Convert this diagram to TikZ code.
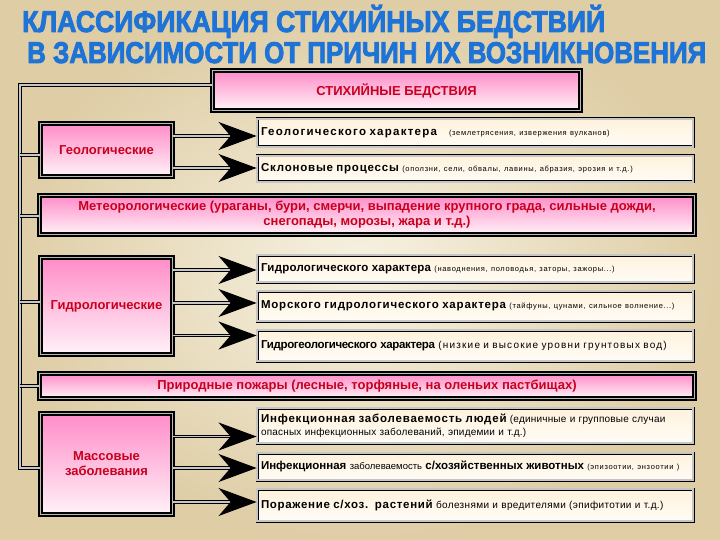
\documentclass[tikz,border=0pt]{standalone}
\usepackage{fontspec}
\setmainfont{Liberation Sans}
\usepackage{graphicx}
\usepackage{tikz}
\usetikzlibrary{arrows.meta}
\usetikzlibrary{positioning}
\tikzstyle{frame}=[draw=black,double=gray!55,line width=1.2pt,double distance=1.8pt]
\tikzstyle{thinframe}=[draw=black,double=gray!45,line width=.9pt,double distance=1.2pt]
\newcommand\mainpart[2][0]{{\bfseries\fontsize{11.5}{13}\selectfont\addfontfeature{LetterSpace=#1}#2}}
\newcommand\notepart[2][9]{{\fontsize{7.5}{9}\selectfont\addfontfeature{LetterSpace=#1}#2}}
\newcommand\midpart[2][0]{{\fontsize{10}{12}\selectfont\addfontfeature{LetterSpace=#1}#2}}

\begin{document}
\begin{tikzpicture}[x=1pt,y=-1pt,
  ttl/.style={font=\bfseries\fontsize{30}{30}\selectfont,anchor=base west,inner sep=0},
  pinkbox/.style={frame,top color=pinktop,bottom color=pinkbot,text=redtext,
    font=\bfseries\fontsize{13}{15}\selectfont,align=center,inner sep=2pt},
  catbox/.style={pinkbox,minimum width=132pt},
  subbox/.style={thinframe,top color=creamtop,bottom color=creambot,
    text width=428pt,align=left,inner sep=4pt},
  conn/.style={draw=black,double=gray!45,line width=1pt,double distance=1.8pt},
  arr/.style={conn,-{Stealth[length=38pt,width=28pt,inset=12pt]}},
]
  \definecolor{pinktop}{RGB}{255,140,200}
  \definecolor{pinkbot}{RGB}{255,242,248}
  \definecolor{creamtop}{RGB}{255,242,220}
  \definecolor{creambot}{RGB}{255,252,246}
  \definecolor{redtext}{RGB}{200,0,30}
  \definecolor{ttlblue}{RGB}{30,115,215}
  \definecolor{bgin}{RGB}{247,242,226}
  \definecolor{bgout}{RGB}{222,205,165}
  \useasboundingbox[inner color=bgin,outer color=bgout] (0,0) rectangle (720,540);

  % title
  \foreach \xp/\yp/\tw/\txt [count=\i] in {22/32/583/КЛАССИФИКАЦИЯ СТИХИЙНЫХ БЕДСТВИЙ,
      27/63/679/В ЗАВИСИМОСТИ ОТ ПРИЧИН ИХ ВОЗНИКНОВЕНИЯ}
    \node[ttl,text=ttlblue] (title\i) at (\xp,\yp) {\resizebox{\tw pt}{\height}{\addfontfeature{FakeBold=3}\txt}};

  \node[pinkbox,minimum width=368pt,minimum height=40pt] (main) at (396.5,90.5) {СТИХИЙНЫЕ БЕДСТВИЯ};

  \node[catbox,minimum height=53pt] (geo) at (106.5,150) {Геологические};
  \node[subbox,minimum height=28pt] (geo1) at (475,133)
    {\mainpart[11]{Геологического характера}\hspace{12pt}\notepart{(землетрясения, извержения вулканов)}};
  \node[subbox,minimum height=26pt] (geo2) at (475,169)
    {\mainpart[7]{Склоновые процессы} \notepart{(оползни, сели, обвалы, лавины, абразия, эрозия и т.д.)}};

  \node[pinkbox,minimum width=655pt,minimum height=39pt] (meteo) at (367,215)
    {Метеорологические (ураганы, бури, смерчи, выпадение крупного града, сильные дожди,\\ снегопады, морозы, жара и т.д.)};

  \node[catbox,minimum height=97pt] (hydro) at (106.5,306) {Гидрологические};
  \node[subbox,minimum height=27pt] (hyd1) at (475,268.5)
    {\mainpart[2]{Гидрологического характера} \notepart{(наводнения, половодья, заторы, зажоры...)}};
  \node[subbox,minimum height=30pt] (hyd2) at (475,306)
    {\mainpart[7]{Морского гидрологического характера} \notepart{(тайфуны, цунами, сильное волнение...)}};
  \node[subbox,minimum height=31pt] (hyd3) at (475,345.5)
    {\mainpart[-3]{Гидрогеологического характера} \midpart[12]{(низкие и высокие уровни грунтовых вод)}};

  \node[pinkbox,minimum width=655pt,minimum height=25pt] (fire) at (367,386)
    {Природные пожары (лесные, торфяные, на оленьих пастбищах)};

  \node[catbox,minimum height=101pt] (mass) at (106.5,464) {Массовые\\заболевания};
  \node[subbox,minimum height=35pt] (mass1) at (475,425.5)
    {\mainpart[7]{Инфекционная заболеваемость людей} \midpart[2]{(единичные и групповые случаи}\\[1pt]
     \midpart[2]{опасных инфекционных заболеваний, эпидемии и т.д.)}};
  \node[subbox,minimum height=27pt] (mass2) at (475,466.5)
    {\mainpart{Инфекционная} {\fontsize{9.5}{11}\selectfont заболеваемость} \mainpart{с/хозяйственных животных} \notepart{(эпизоотии, энзоотии )}};
  \node[subbox,minimum height=32pt] (mass3) at (475,505)
    {\mainpart[6]{Поражение с/хоз.\ \ растений} \midpart[3.5]{болезнями и вредителями (эпифитотии и т.д.)}};

  % trunk on the left
  \coordinate (trunk) at (20,85);
  \draw[conn] ([yshift=5.5pt]main.west) -- (trunk) |- ([yshift=-4pt]mass.west);
  \foreach \n/\s in {geo/-5,meteo/-1,hydro/4,fire/0}
    \draw[conn] ([yshift=\s pt]trunk |- \n.west) -- ([yshift=\s pt]\n.west);

  % arrows
  \draw[arr] ([yshift=-3pt]geo.east |- geo1.west) -- ([yshift=-3pt]geo1.west);
  \draw[arr] ([yshift=1pt]geo.east |- geo2.west) -- ([yshift=1pt]geo2.west);
  \draw[arr] ([yshift=-1.5pt]hydro.east |- hyd1.west) -- ([yshift=-1.5pt]hyd1.west);
  \draw[arr] ([yshift=3pt]hydro.east |- hyd2.west) -- ([yshift=3pt]hyd2.west);
  \draw[arr] ([yshift=10pt]hydro.east |- hyd3.west) -- ([yshift=10pt]hyd3.west);
  \draw[arr] ([yshift=-11pt]mass.east |- mass1.west) -- ([yshift=-11pt]mass1.west);
  \draw[arr] ([yshift=-1.5pt]mass.east |- mass2.west) -- ([yshift=-1.5pt]mass2.west);
  \draw[arr] ([yshift=3pt]mass.east |- mass3.west) -- ([yshift=3pt]mass3.west);
\end{tikzpicture}
\end{document}
